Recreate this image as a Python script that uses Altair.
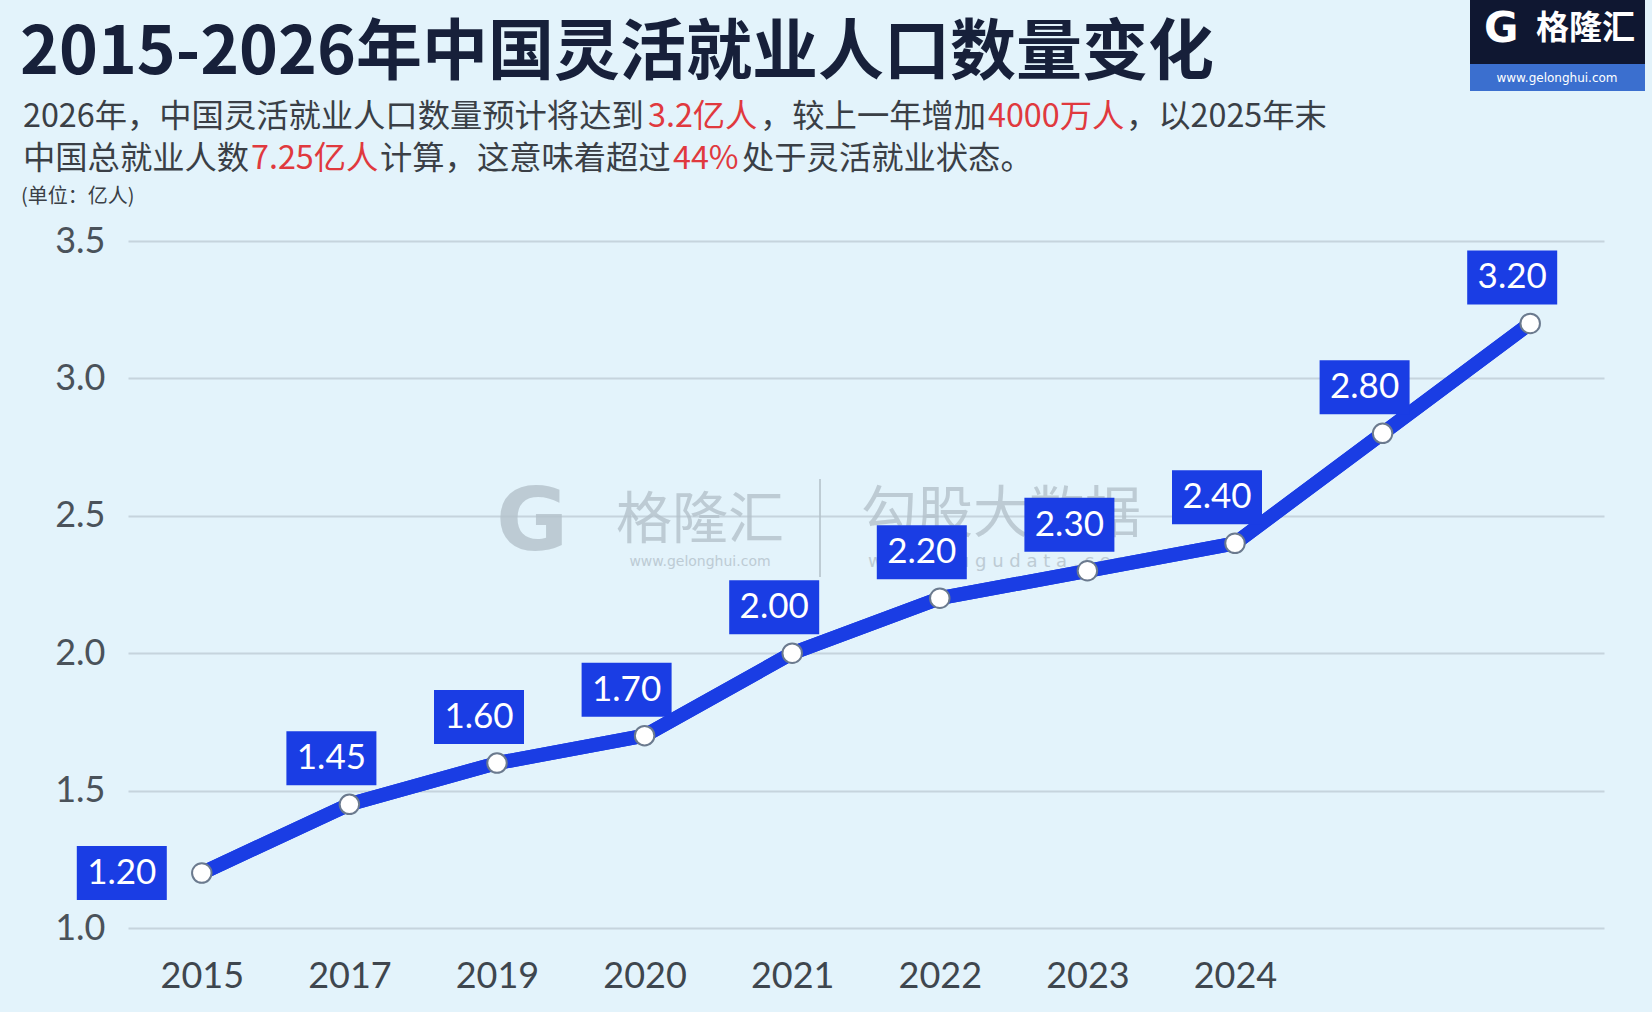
import altair as alt
import pandas as pd

# ---------------- data ----------------
years = ["2015", "2017", "2019", "2020", "2021", "2022", "2023", "2024", "2025", "2026"]
values = [1.20, 1.45, 1.60, 1.70, 2.00, 2.20, 2.30, 2.40, 2.80, 3.20]
y_ticks = [1.0, 1.5, 2.0, 2.5, 3.0, 3.5]
hidden_year_labels = ["2025", "2026"]

title_text = "2015-2026年中国灵活就业人口数量变化"
sub_line1 = ["2026年，中国灵活就业人口数量预计将达到", "3.2亿人", "，较上一年增加", "4000万人", "，以2025年末"]
sub_line2 = ["中国总就业人数", "7.25亿人", "计算，这意味着超过", "44%", "处于灵活就业状态。"]
unit_text = "(单位：亿人)"

df = pd.DataFrame({"year": years, "value": values})
one = pd.DataFrame({"a": [0]})

# ---------------- styles ----------------
BG = "#e3f3fb"
BLUE = "#1a3de4"
RED = "#e0393e"
DARK = "#3a3f46"
CJK = "Noto Sans CJK SC"
NUM = "Lato"

W, H = 1476, 687

x_enc = alt.X("year:O", sort=years,
              scale=alt.Scale(type="point", padding=0.5, domain=years),
              axis=alt.Axis(title=None, labelAngle=0, labelFont=NUM, labelFontSize=36,
                            labelColor="#3e464e", labelPadding=31, ticks=False, domain=False,
                            grid=False,
                            labelExpr="indexof(%s, datum.value) >= 0 ? '' : datum.value" % str(hidden_year_labels)))
y_enc = alt.Y("value:Q",
              scale=alt.Scale(domain=[1.0, 3.5], nice=False, zero=False),
              axis=alt.Axis(title=None, values=y_ticks, format=".1f", labelFont=NUM,
                            labelFontSize=36, labelColor="#4a525a", labelPadding=23,
                            ticks=False, domain=False, grid=True, gridColor="#c6d4dd",
                            gridWidth=2))

base = alt.Chart(df)

line = base.mark_line(color=BLUE, strokeWidth=14, strokeCap="round", strokeJoin="round").encode(x=x_enc, y=y_enc)
pts = base.mark_point(filled=True, fill="white", stroke="#6b7a8e", strokeWidth=2, size=380, opacity=1).encode(
    x="year:O", y="value:Q")

box_path = "M-1,-0.6L1,-0.6L1,0.6L-1,0.6Z"
first = alt.datum.year == years[0]
rest = alt.datum.year != years[0]

box_rest = base.transform_filter(rest).mark_point(shape=box_path, size=8100, filled=True, fill=BLUE,
                                                  opacity=1, xOffset=-18, yOffset=-46).encode(x="year:O", y="value:Q")
txt_rest = base.transform_filter(rest).mark_text(color="white", font=NUM, fontSize=35, dx=-18, dy=-46,
                                                 baseline="middle", align="center").encode(
    x="year:O", y="value:Q", text=alt.Text("value:Q", format=".2f"))
box_first = base.transform_filter(first).mark_point(shape=box_path, size=8100, filled=True, fill=BLUE,
                                                    opacity=1, xOffset=-80, yOffset=0).encode(x="year:O", y="value:Q")
txt_first = base.transform_filter(first).mark_text(color="white", font=NUM, fontSize=35, dx=-80, dy=0,
                                                   baseline="middle", align="center").encode(
    x="year:O", y="value:Q", text=alt.Text("value:Q", format=".2f"))

deco = alt.Chart(one)

def txt(s, x, y, size, color, font=CJK, weight="normal", align="left", opacity=1.0):
    return deco.mark_text(text=s, font=font, fontSize=size, color=color, fontWeight=weight,
                          align=align, baseline="middle", opacity=opacity).encode(
        x=alt.value(x), y=alt.value(y))

# title & subtitle
layers = [txt(title_text, -108, -187, 66, "#17203a", weight="bold")]
x1 = [-105, 520, 632, 860, 998]
x2 = [-105, 123, 252, 545, 614]
for i, s in enumerate(sub_line1):
    layers.append(txt(s, x1[i], -124, 32.3, RED if i in (1, 3) else DARK))
for i, s in enumerate(sub_line2):
    layers.append(txt(s, x2[i], -82, 32.3, RED if i in (1, 3) else DARK))
layers.append(txt(unit_text, -107, -44, 20, DARK))

# logo top-right
layers.append(deco.mark_rect(color="#0f1731").encode(x=alt.value(1342), x2=alt.value(1517),
                                                     y=alt.value(-241), y2=alt.value(-177)))
layers.append(deco.mark_rect(color="#3b6fcf").encode(x=alt.value(1342), x2=alt.value(1517),
                                                     y=alt.value(-177), y2=alt.value(-150)))
layers.append(txt("G", 1356, -212, 42, "white", font="DejaVu Sans", weight="bold"))
layers.append(txt("格隆汇", 1408, -212, 33, "white", weight="bold"))
layers.append(txt("www.gelonghui.com", 1429, -163, 12, "white", font="DejaVu Sans", align="center"))

# watermark
WM = "#b4c2cb"
wm = [
    txt("G", 368, 283, 88, WM, font="DejaVu Sans", weight="bold", opacity=0.8),
    txt("格隆汇", 572, 280, 56, WM, align="center", opacity=0.8),
    txt("www.gelonghui.com", 572, 321, 14, WM, font="DejaVu Sans", align="center", opacity=0.8),
    deco.mark_rule(color=WM, strokeWidth=2, opacity=0.8).encode(
        x=alt.value(692), y=alt.value(238), y2=alt.value(336)),
    txt("勾股大数据", 873, 274, 56, WM, align="center", opacity=0.8),
    txt("w w w . g u g u d a t a . c o m", 873, 321, 18, WM, font="DejaVu Sans", align="center", opacity=0.8),
]

chart = alt.layer(
    line, *wm, line, pts, box_rest, txt_rest, box_first, txt_first, *layers
).properties(
    width=W, height=H,
    autosize=alt.AutoSizeParams(type="none"),
    padding={"left": 128, "top": 241, "right": 48, "bottom": 84},
    background=BG,
).configure_view(stroke=None)

chart.save("out.html", embed_options={"renderer": "svg", "actions": False})
